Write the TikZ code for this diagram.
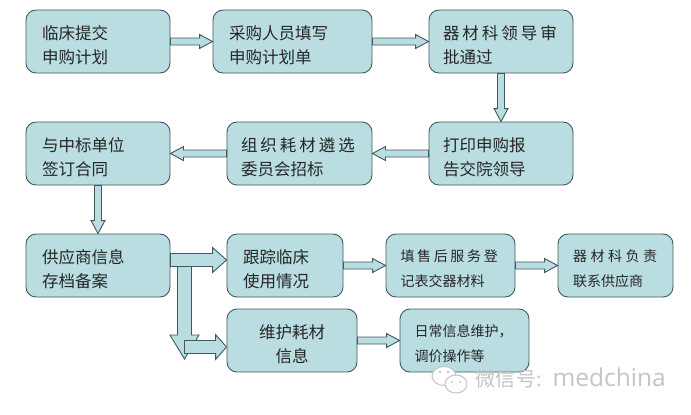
\documentclass[tikz,border=0pt]{standalone}
\usepackage{fontspec}
\setmainfont{Noto Sans CJK SC}
\newfontfamily\markfont{Open Sans}
\usetikzlibrary{calc}
\definecolor{boxfill}{HTML}{B9DDE1}
\definecolor{boxline}{HTML}{3F5A5E}
\definecolor{markgray}{HTML}{C4C4C4}
\newcommand{\widen}[1]{\addfontfeature{LetterSpace=#1}}
\tikzset{
  flowbox/.style={draw=boxline,fill=boxfill,line width=0.9pt,rounded corners=10pt,
    minimum height=63pt,inner xsep=0pt,inner ysep=0pt,align=left,
    execute at begin node={\rule{0pt}{1.3em}},
    font=\fontsize{16.5pt}{24.5pt}\selectfont,text=black!85},
  smalltext/.style={font=\fontsize{14pt}{24.5pt}\selectfont},
  blockarrow/.style n args={3}{draw=boxline,fill=boxfill,line width=0.9pt,to path={
    -- ($(\tikztostart)!#1!90:(\tikztotarget)$)
    -- ($($(\tikztotarget)!#3!(\tikztostart)$)!#1!90:(\tikztotarget)$)
    -- ($($(\tikztotarget)!#3!(\tikztostart)$)!#2!90:(\tikztotarget)$)
    -- (\tikztotarget)
    -- ($($(\tikztotarget)!#3!(\tikztostart)$)!#2!-90:(\tikztotarget)$)
    -- ($($(\tikztotarget)!#3!(\tikztostart)$)!#1!-90:(\tikztotarget)$)
    -- ($(\tikztostart)!#1!-90:(\tikztotarget)$) -- cycle}},
  thinarrow/.style={blockarrow={3.5pt}{7pt}{13pt}},
  widearrow/.style={blockarrow={6.5pt}{12.5pt}{14pt}}
}
\begin{document}
\begin{tikzpicture}[x=1pt,y=-1pt]
  \useasboundingbox (0,0) rectangle (691,415);
  % first row
  \node[flowbox,minimum width=144pt,text width=112pt] (plan) at (98,41.5)
    {临床提交\\申购计划};
  \node[flowbox,minimum width=159pt,text width=127pt] (buyer) at (292.5,41.5)
    {采购人员填写\\申购计划单};
  \node[flowbox,minimum width=144pt,text width=116pt] (chief) at (501,41.5)
    {{\widen{18}器材科领导审}\\批通过};
  % second row
  \node[flowbox,minimum width=144pt,text width=112pt] (sign) at (98,153.5)
    {与中标单位\\签订合同};
  \node[flowbox,minimum width=145pt,text width=117pt] (panel) at (299.5,153.5)
    {{\widen{18}组织耗材遴选}\\委员会招标};
  \node[flowbox,minimum width=144pt,text width=116pt] (report) at (501,153.5)
    {打印申购报\\告交院领导};
  % third row
  \node[flowbox,minimum width=144pt,text width=112pt] (vendor) at (98,265.5)
    {供应商信息\\存档备案};
  \node[flowbox,minimum width=116pt,text width=84pt] (track) at (285,265.5)
    {跟踪临床\\使用情况};
  \node[flowbox,smalltext,minimum width=129pt,text width=100pt] (service) at (450.5,265.5)
    {{\widen{19}填售后服务登}\\记表交器材料};
  \node[flowbox,smalltext,minimum width=115pt,text width=85pt] (contact) at (615.5,265.5)
    {{\widen{25}器材科负责}\\联系供应商};
  % fourth row
  \node[flowbox,minimum width=130pt,text width=130pt,align=center] (upkeep) at (292,340.5)
    {维护耗材\\信息};
  \node[flowbox,smalltext,minimum width=129pt,text width=100pt] (daily) at (464.5,340.5)
    {日常信息维护，\\调价操作等};
  % connectors
  \draw[thinarrow] (plan.east) to (buyer.west);
  \draw[thinarrow] (buyer.east) to (chief.west);
  \draw[thinarrow] (chief.south) to (report.north);
  \draw[thinarrow] (report.west) to (panel.east);
  \draw[thinarrow] (panel.west) to (sign.east);
  \draw[thinarrow] (sign.south) to (vendor.north);
  \coordinate (vendorout) at ([yshift=5.5pt]vendor.east);
  \coordinate (trackin) at ([yshift=5.5pt]track.west);
  \coordinate (branchtop) at (184.5,266);
  \coordinate (branchtip) at (184.5,359);
  \coordinate (branchout) at (184.5,347);
  \coordinate (upkeepin) at ([yshift=-6.5pt]upkeep.west);
  \draw[blockarrow={7pt}{14.5pt}{24pt}] (branchtop) to (branchtip);
  \draw[widearrow] (vendorout) to (trackin);
  \draw[blockarrow={6.5pt}{12.5pt}{11pt}] (branchout) to (upkeepin);
  \draw[thinarrow] (track.east) to (service.west);
  \draw[thinarrow] (service.east) to (contact.west);
  \draw[thinarrow] (upkeep.east) to (daily.west);
  % watermark
  \draw[markgray,fill=white,line width=1pt] (444,376) ellipse (12pt and 9.5pt);
  \draw[markgray,fill=white,line width=1pt] (456,384) ellipse (11pt and 9pt);
  \fill[markgray] (440,372) circle (1.3pt) (448,372) circle (1.3pt)
    (452,382) circle (1.1pt) (460,382) circle (1.1pt);
  \node[text=markgray,anchor=west,inner sep=0pt,font=\fontsize{20pt}{20pt}\selectfont] (mark) at (475,378)
    {{\widen{3}微信号:}\hspace{10pt}{\markfont\fontsize{24.5pt}{24.5pt}\selectfont medchina}};
\end{tikzpicture}
\end{document}
